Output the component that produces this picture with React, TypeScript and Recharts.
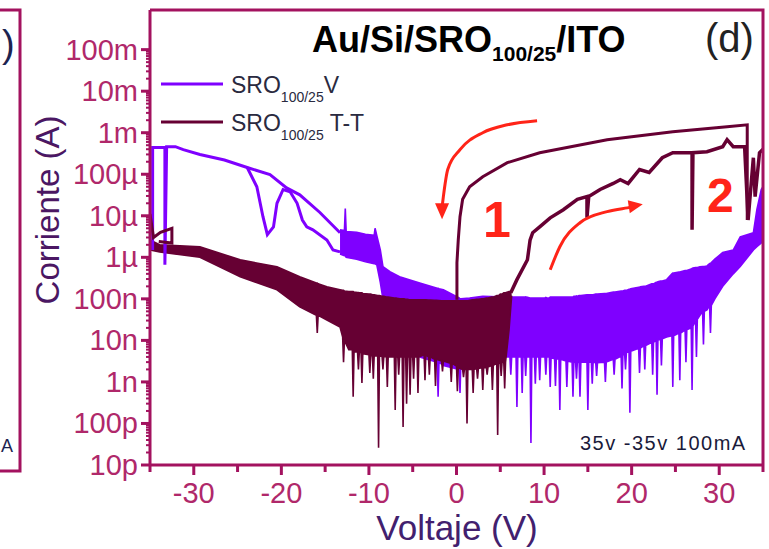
import React from "react";
import { Area, ComposedChart, Line, XAxis, YAxis } from "recharts";

const PURPLE = "#7f00ff";
const MAROON = "#660033";
const AXIS = "#a3125f";
const TICK_TXT = "#b0286a";
const RED = "#ff2418";
const FONT = "'Liberation Sans', Arial, sans-serif";

// x ticks every 5 V, labels only on the tens
const X_TICKS = [-35, -30, -25, -20, -15, -10, -5, 0, 5, 10, 15, 20, 25, 30, 35];
const Y_MAJOR = [1e-11, 1e-10, 1e-9, 1e-8, 1e-7, 1e-6, 1e-5, 1e-4, 1e-3, 1e-2, 1e-1];
const Y_LABELS = ["10p", "100p", "1n", "10n", "100n", "1µ", "10µ", "100µ", "1m", "10m", "100m"];
const Y_TICKS: number[] = [];
Y_MAJOR.forEach((m, i) => {
  Y_TICKS.push(m);
  if (i < Y_MAJOR.length - 1) for (let k = 2; k <= 9; k++) Y_TICKS.push(m * k);
});

// SRO V : noisy band [V, low, high]
const sroVBand: [number, number, number][] = [
  [-13.3, 1.2e-6, 4.6e-6], [-12.8, 1.1e-6, 4.4e-6], [-12.7, 1.1e-6, 1.5e-5], [-12.6, 1.0e-6, 4.2e-6],
  [-11.4, 9.0e-7, 4.0e-6], [-10.4, 7.8e-7, 3.6e-6], [-9.4, 7.0e-7, 3.4e-6], [-9.3, 7.0e-7, 5.0e-6],
  [-9.1, 6.6e-7, 3.3e-6], [-8.7, 2.5e-7, 1.5e-6], [-8.4, 1.0e-7, 6.0e-7], [-7.6, 5.0e-8, 4.5e-7],
  [-6.5, 1.0e-8, 3.4e-7], [-4.2, 4.0e-9, 2.4e-7], [-2.2, 3.0e-9, 1.8e-7], [-2.1, 4.4e-10, 1.8e-7],
  [-2.0, 3.0e-9, 1.75e-7], [-1.5, 2.5e-9, 1.65e-7], [0.3, 2.0e-9, 1.05e-7], [0.4, 5.4e-10, 1.0e-7],
  [0.5, 3.0e-9, 1.0e-7], [1.5, 3.0e-9, 1.05e-7], [3.0, 3.5e-9, 1.15e-7], [5.5, 4.0e-9, 1.1e-7],
  [6.1, 4.0e-9, 1.1e-7], [6.2, 1.5e-9, 1.1e-7], [6.3, 4.0e-9, 1.1e-7],
  [6.8, 4.0e-9, 1.1e-7], [6.9, 2.5e-10, 1.1e-7], [7.0, 4.0e-9, 1.1e-7],
  [7.4, 4.0e-9, 1.1e-7], [7.5, 5.4e-10, 1.1e-7], [7.6, 4.0e-9, 1.1e-7],
  [7.8, 4.0e-9, 1.1e-7], [7.9, 1.4e-9, 1.12e-7], [8.0, 4.0e-9, 1.1e-7],
  [8.4, 4.0e-9, 1.05e-7], [8.5, 3.4e-11, 1.05e-7], [8.6, 4.0e-9, 1.05e-7],
  [8.9, 4.0e-9, 1.05e-7], [9.0, 9.0e-10, 1.05e-7], [9.1, 4.0e-9, 1.05e-7],
  [9.4, 4.0e-9, 1.05e-7], [9.5, 1.1e-9, 1.05e-7], [9.6, 4.0e-9, 1.05e-7],
  [10.1, 4.0e-9, 1.05e-7], [10.2, 1.5e-9, 1.08e-7], [10.3, 4.0e-9, 1.05e-7],
  [10.6, 4.0e-9, 1.05e-7], [10.7, 7.6e-10, 1.1e-7], [10.8, 3.8e-9, 1.1e-7],
  [11.2, 3.6e-9, 1.1e-7], [11.3, 8.0e-10, 1.1e-7], [11.4, 3.6e-9, 1.1e-7],
  [11.7, 3.5e-9, 1.1e-7], [11.8, 2.1e-10, 1.1e-7], [11.9, 3.5e-9, 1.1e-7],
  [12.5, 3.2e-9, 1.1e-7], [12.6, 7.6e-10, 1.1e-7], [12.7, 3.2e-9, 1.1e-7],
  [13.2, 3.0e-9, 1.1e-7], [13.3, 4.4e-10, 1.1e-7], [13.4, 3.0e-9, 1.15e-7],
  [13.6, 3.0e-9, 1.15e-7], [13.7, 1.2e-9, 1.18e-7], [13.8, 3.0e-9, 1.15e-7],
  [14.0, 3.0e-9, 1.2e-7], [14.1, 4.4e-10, 1.2e-7], [14.2, 3.0e-9, 1.2e-7],
  [14.9, 3.0e-9, 1.25e-7], [15.0, 2.1e-10, 1.25e-7], [15.1, 3.0e-9, 1.25e-7],
  [15.4, 3.0e-9, 1.25e-7], [15.5, 9.0e-10, 1.25e-7], [15.6, 3.0e-9, 1.25e-7],
  [15.9, 2.9e-9, 1.3e-7], [16.0, 1.4e-9, 1.3e-7], [16.1, 2.9e-9, 1.3e-7],
  [16.9, 3.0e-9, 1.35e-7], [17.0, 1.0e-9, 1.35e-7], [17.1, 3.0e-9, 1.35e-7],
  [17.9, 3.5e-9, 1.45e-7], [18.0, 1.5e-9, 1.45e-7], [18.1, 3.5e-9, 1.45e-7],
  [18.8, 4.2e-9, 1.55e-7], [18.9, 7.0e-10, 1.55e-7], [19.0, 4.5e-9, 1.55e-7],
  [19.2, 4.8e-9, 1.6e-7], [19.3, 2.0e-9, 1.6e-7], [19.4, 5.0e-9, 1.6e-7],
  [19.7, 5.5e-9, 1.7e-7], [19.8, 1.8e-10, 1.7e-7], [19.9, 5.5e-9, 1.75e-7],
  [20.8, 6.5e-9, 1.9e-7], [20.9, 1.65e-9, 1.9e-7], [21.0, 6.5e-9, 1.95e-7],
  [21.4, 7.5e-9, 2.0e-7], [21.5, 2.0e-9, 2.0e-7], [21.6, 7.5e-9, 2.0e-7],
  [22.3, 9.0e-9, 2.3e-7], [22.4, 1.5e-9, 2.3e-7], [22.5, 9.0e-9, 2.3e-7],
  [22.8, 1.0e-8, 2.5e-7], [22.9, 4.9e-10, 2.5e-7], [23.0, 1.0e-8, 2.6e-7],
  [23.3, 1.1e-8, 2.7e-7], [23.4, 2.5e-9, 2.7e-7], [23.5, 1.1e-8, 2.7e-7],
  [24.0, 1.2e-8, 2.9e-7], [24.6, 1.3e-8, 4.0e-7], [24.7, 7.6e-10, 4.2e-7], [24.8, 1.3e-8, 4.2e-7],
  [25.4, 1.5e-8, 4.4e-7], [25.5, 1.1e-9, 4.4e-7], [25.6, 1.5e-8, 4.5e-7],
  [26.1, 1.8e-8, 4.8e-7], [26.2, 3.0e-9, 4.8e-7], [26.3, 1.8e-8, 4.8e-7],
  [26.8, 2.0e-8, 5.2e-7], [26.9, 6.4e-10, 5.4e-7], [27.0, 2.2e-8, 5.5e-7],
  [27.3, 3.0e-8, 5.7e-7], [27.4, 4.0e-9, 5.7e-7], [27.5, 3.2e-8, 5.7e-7],
  [27.8, 4.0e-8, 5.9e-7], [28.1, 5.0e-8, 6.0e-7], [28.2, 8.0e-9, 6.0e-7], [28.3, 5.0e-8, 6.0e-7],
  [28.6, 5.4e-8, 6.2e-7], [28.9, 7.0e-8, 7.0e-7], [29.0, 1.5e-8, 7.2e-7], [29.1, 7.0e-8, 7.5e-7],
  [29.5, 1.0e-7, 9.0e-7], [30.4, 2.0e-7, 1.3e-6], [31.6, 4.0e-7, 1.5e-6], [32.4, 6.0e-7, 3.1e-6],
  [33.9, 1.5e-6, 3.9e-6], [34.3, 1.8e-6, 1.4e-5], [34.8, 2.2e-6, 4.3e-5], [35.0, 2.6e-6, 5.0e-5],
];

// SRO V : main sweep with the two left verticals
const sroVSweep: [number, number][] = [
  [-34.7, 1.5e-6], [-34.7, 4.4e-4], [-33.3, 4.4e-4], [-33.3, 6.6e-7], [-33.1, 4.6e-4], [-32.1, 4.6e-4],
  [-31.2, 3.9e-4], [-29.3, 3.0e-4], [-26.5, 2.2e-4], [-23.9, 1.45e-4], [-21.3, 9.8e-5], [-19.4, 4.7e-5],
  [-17.9, 3.2e-5], [-15.6, 1.2e-5], [-13.3, 3.9e-6],
];

// SRO V : branch with the two dips
const sroVDips: [number, number][] = [
  [-23.9, 1.45e-4], [-22.8, 5.0e-5], [-22.1, 9.5e-6], [-21.6, 3.5e-6], [-20.9, 5.4e-6], [-20.5, 2.0e-5],
  [-19.8, 4.3e-5], [-19.0, 3.8e-5], [-18.2, 2.0e-5], [-17.6, 7.9e-6], [-17.1, 5.4e-6], [-16.4, 4.6e-6],
  [-14.8, 2.6e-6], [-14.1, 1.5e-6], [-13.3, 1.35e-6],
];

// SRO T-T : noisy band [V, low, high]
const sroTTBand: [number, number, number][] = [
  [-35.0, 1.5e-6, 2.6e-6], [-33.9, 1.35e-6, 2.0e-6], [-29.3, 1.0e-6, 1.8e-6], [-24.7, 3.4e-7, 8.7e-7],
  [-20.5, 1.65e-7, 5.9e-7], [-17.9, 6.4e-8, 3.4e-7], [-16.0, 4.0e-8, 2.4e-7], [-15.9, 1.5e-8, 2.4e-7],
  [-15.8, 4.0e-8, 2.3e-7], [-14.8, 3.1e-8, 1.95e-7], [-13.3, 2.1e-8, 1.65e-7], [-13.0, 1.2e-8, 1.6e-7],
  [-12.9, 3.0e-9, 1.6e-7], [-12.8, 1.0e-8, 1.55e-7], [-12.3, 6.0e-9, 1.5e-7], [-11.9, 6.0e-9, 1.5e-7],
  [-11.8, 4.4e-10, 1.5e-7], [-11.7, 5.5e-9, 1.45e-7], [-11.3, 5.2e-9, 1.42e-7], [-11.2, 2.0e-9, 1.42e-7],
  [-11.1, 5.2e-9, 1.4e-7], [-10.9, 5.0e-9, 1.4e-7], [-10.8, 9.5e-10, 1.4e-7], [-10.7, 4.8e-9, 1.35e-7],
  [-10.0, 4.5e-9, 1.3e-7], [-9.9, 1.65e-9, 1.3e-7], [-9.8, 4.3e-9, 1.3e-7], [-9.6, 4.3e-9, 1.25e-7],
  [-9.5, 1.2e-9, 1.25e-7], [-9.4, 4.3e-9, 1.25e-7], [-9.0, 4.2e-9, 1.2e-7], [-8.9, 2.6e-11, 1.2e-7],
  [-8.8, 4.2e-9, 1.2e-7], [-8.5, 4.1e-9, 1.15e-7], [-8.4, 2.0e-9, 1.15e-7], [-8.3, 4.1e-9, 1.15e-7],
  [-8.0, 4.0e-9, 1.1e-7], [-7.9, 7.6e-10, 1.1e-7], [-7.8, 4.0e-9, 1.1e-7], [-7.1, 4.0e-9, 1.05e-7],
  [-7.0, 2.1e-10, 1.05e-7], [-6.9, 4.0e-9, 1.05e-7], [-6.7, 4.0e-9, 1.02e-7], [-6.6, 1.5e-9, 1.02e-7],
  [-6.5, 4.0e-9, 1.0e-7], [-6.2, 4.0e-9, 1.0e-7], [-6.1, 8.2e-11, 1.0e-7], [-6.0, 4.0e-9, 1.0e-7],
  [-5.8, 4.0e-9, 9.8e-8], [-5.7, 3.0e-10, 9.8e-8], [-5.6, 4.0e-9, 9.8e-8], [-5.4, 4.0e-9, 9.5e-8],
  [-5.3, 4.9e-10, 9.5e-8], [-5.2, 4.0e-9, 9.5e-8], [-5.0, 4.0e-9, 9.5e-8], [-4.9, 1.2e-9, 9.5e-8],
  [-4.8, 4.0e-9, 9.5e-8], [-4.5, 4.0e-9, 9.5e-8], [-4.4, 5.4e-10, 9.5e-8], [-4.3, 4.0e-9, 9.5e-8],
  [-3.7, 4.5e-9, 9.5e-8], [-3.6, 1.1e-9, 9.5e-8], [-3.5, 4.5e-9, 9.5e-8], [-3.2, 4.0e-9, 9.3e-8],
  [-3.1, 1.5e-9, 9.3e-8], [-3.0, 4.0e-9, 9.3e-8], [-2.5, 3.5e-9, 9.2e-8], [-2.4, 8.0e-10, 9.2e-8],
  [-2.3, 3.5e-9, 9.2e-8], [-1.7, 3.2e-9, 9.0e-8], [-1.6, 1.8e-9, 9.0e-8], [-1.5, 3.2e-9, 9.0e-8],
  [-0.7, 2.8e-9, 9.0e-8], [-0.6, 1.0e-9, 9.0e-8], [-0.5, 2.8e-9, 9.0e-8], [0.0, 2.4e-9, 9.0e-8],
  [0.1, 6.0e-10, 9.0e-8], [0.2, 2.2e-9, 9.0e-8], [0.7, 2.0e-9, 9.0e-8], [0.8, 1.3e-9, 9.0e-8],
  [0.9, 2.0e-9, 9.0e-8], [1.1, 2.0e-9, 9.0e-8], [1.2, 1.0e-10, 9.0e-8], [1.3, 2.0e-9, 9.0e-8],
  [1.8, 2.0e-9, 9.5e-8], [1.9, 5.4e-10, 9.5e-8], [2.0, 2.0e-9, 9.5e-8], [2.3, 2.1e-9, 9.7e-8],
  [2.4, 1.2e-9, 9.7e-8], [2.5, 2.1e-9, 9.7e-8], [2.9, 2.2e-9, 1.0e-7], [3.0, 6.4e-10, 1.0e-7],
  [3.1, 2.2e-9, 1.0e-7], [3.4, 2.3e-9, 1.05e-7], [3.5, 1.5e-9, 1.05e-7], [3.6, 2.3e-9, 1.05e-7],
  [4.0, 2.5e-9, 1.1e-7], [4.1, 6.4e-10, 1.1e-7], [4.2, 2.5e-9, 1.1e-7], [4.6, 2.8e-9, 1.2e-7],
  [4.7, 5.3e-11, 1.2e-7], [4.8, 2.8e-9, 1.2e-7], [5.0, 2.9e-9, 1.3e-7], [5.1, 1.4e-9, 1.3e-7],
  [5.2, 2.9e-9, 1.3e-7], [5.4, 3.0e-9, 1.4e-7], [5.5, 7.0e-10, 1.4e-7], [5.6, 3.0e-9, 1.4e-7],
  [6.0, 1.8e-8, 1.5e-7], [6.3, 1.2e-7, 1.5e-7],
];

// SRO T-T : small loop at the left edge
const sroTTLoop: [number, number][] = [
  [-35.0, 1.1e-5], [-34.6, 3.0e-6], [-33.8, 4.0e-6], [-32.5, 5.0e-6], [-32.5, 2.2e-6], [-34.0, 2.4e-6],
];

// SRO T-T : forward sweep (2)
const sroTTSet: [number, number][] = [
  [6.2, 1.4e-7], [6.9, 2.9e-7], [8.1, 8.7e-7], [8.4, 2.6e-6], [8.7, 3.9e-6], [9.5, 5.4e-6],
  [10.7, 8.9e-6], [12.2, 1.4e-5], [13.8, 2.5e-5], [14.9, 2.9e-5], [14.9, 9.0e-6], [15.1, 2.9e-5],
  [16.4, 4.3e-5], [17.9, 6.0e-5], [18.7, 7.4e-5], [19.6, 6.0e-5], [20.9, 1.3e-4], [22.0, 1.1e-4],
  [23.5, 2.5e-4], [24.7, 3.3e-4], [26.9, 3.3e-4], [26.9, 4.6e-6], [27.0, 3.3e-4], [28.6, 3.5e-4],
  [30.4, 4.6e-4], [30.9, 6.8e-4], [31.6, 4.6e-4], [32.9, 4.6e-4], [33.3, 7.9e-6], [33.9, 2.5e-4],
  [34.1, 2.9e-5], [34.6, 3.3e-4], [35.0, 4.0e-4],
];

// SRO T-T : return sweep (1)
const sroTTReset: [number, number][] = [
  [33.2, 7.9e-6], [33.2, 1.55e-3], [30.9, 1.4e-3], [24.7, 1.05e-3], [17.2, 6.8e-4], [9.5, 3.3e-4],
  [5.8, 1.9e-4], [3.0, 8.7e-5], [1.5, 5.0e-5], [0.7, 2.5e-5], [0.4, 9.5e-6], [0.2, 2.6e-6],
  [0.05, 7.4e-7], [0.05, 9.5e-8],
];

// red arrows, in data coordinates
const arrow1: [number, number][] = [
  [9.2, 1.95e-3], [5.8, 1.55e-3], [3.0, 1.0e-3], [0.4, 3.9e-4], [-1.0, 1.3e-4], [-1.5, 2.9e-5], [-1.65, 1.6e-5],
];
const arrow2: [number, number][] = [
  [10.7, 5.0e-7], [11.8, 1.8e-6], [14.1, 6.8e-6], [17.2, 1.26e-5], [19.5, 1.55e-5], [19.9, 1.6e-5],
];

const band = (rows: [number, number, number][]) => rows.map(([v, lo, hi]) => ({ v, range: [lo, hi] }));
const pts = (rows: [number, number][]) => rows.map(([v, i]) => ({ v, i }));

function XTick({ x, y, payload }: any) {
  const v = payload.value;
  const major = v % 10 === 0;
  return (
    <g>
      <line x1={x} x2={x} y1={y} y2={y + (major ? 10 : 7)} stroke={AXIS} strokeWidth={3} />
      {major && (
        <text x={x} y={y + 38} textAnchor="middle" fontSize={29} fill={TICK_TXT} fontFamily={FONT}>
          {v}
        </text>
      )}
    </g>
  );
}

function YTick({ x, y, payload }: any) {
  const e = Math.log10(payload.value);
  const major = Math.abs(e - Math.round(e)) < 1e-6;
  return (
    <g>
      <line x1={x} x2={x - (major ? 9 : 4)} y1={y} y2={y} stroke={AXIS} strokeWidth={major ? 3 : 2} />
      {major && (
        <text x={x - 12} y={y + 10} textAnchor="end" fontSize={29} fill={TICK_TXT} fontFamily={FONT}>
          {Y_LABELS[Math.round(e) + 11]}
        </text>
      )}
    </g>
  );
}

const headDown = (n: number) => (p: any) =>
  p.index === n - 1 ? (
    <polygon key="h" points={`${p.cx - 7},${p.cy - 4} ${p.cx + 7},${p.cy - 4} ${p.cx},${p.cy + 12}`} fill={RED} />
  ) : (
    <g key={p.index} />
  );

const headRight = (n: number) => (p: any) =>
  p.index === n - 1 ? (
    <polygon key="h" points={`${p.cx - 3},${p.cy - 7} ${p.cx - 1},${p.cy + 6} ${p.cx + 12},${p.cy - 3}`} fill={RED} />
  ) : (
    <g key={p.index} />
  );

export default function App() {
  return (
    <div style={{ position: "absolute", left: 0, top: 0, width: 769, height: 549, background: "#fff" }}>
      <ComposedChart width={769} height={549} margin={{ top: 10, right: 6, bottom: 0, left: 0 }}>
        <XAxis
          type="number"
          dataKey="v"
          domain={[-35, 35]}
          ticks={X_TICKS}
          interval={0}
          allowDataOverflow
          height={84}
          tickLine={false}
          tickSize={0}
          tickMargin={0}
          tick={<XTick />}
          axisLine={{ stroke: AXIS, strokeWidth: 3 }}
        />
        <YAxis
          scale="log"
          domain={[1e-11, 0.9]}
          ticks={Y_TICKS}
          interval={0}
          allowDataOverflow
          width={150}
          tickLine={false}
          tickSize={0}
          tickMargin={0}
          tick={<YTick />}
          axisLine={{ stroke: AXIS, strokeWidth: 3 }}
        />

        <Area data={band(sroVBand)} dataKey="range" type="linear" stroke={PURPLE} strokeWidth={1.6} fill={PURPLE} fillOpacity={1} isAnimationActive={false} />
        <Line data={pts(sroVSweep)} dataKey="i" type="linear" stroke={PURPLE} strokeWidth={3} dot={false} isAnimationActive={false} />
        <Line data={pts(sroVDips)} dataKey="i" type="linear" stroke={PURPLE} strokeWidth={3} dot={false} isAnimationActive={false} />

        <Area data={band(sroTTBand)} dataKey="range" type="linear" stroke={MAROON} strokeWidth={1.6} fill={MAROON} fillOpacity={1} isAnimationActive={false} />
        <Line data={pts(sroTTLoop)} dataKey="i" type="linear" stroke={MAROON} strokeWidth={3} dot={false} isAnimationActive={false} />
        <Line data={pts(sroTTSet)} dataKey="i" type="linear" stroke={MAROON} strokeWidth={3.5} dot={false} isAnimationActive={false} />
        <Line data={pts(sroTTReset)} dataKey="i" type="linear" stroke={MAROON} strokeWidth={3} dot={false} isAnimationActive={false} />

        <Line data={pts(arrow1)} dataKey="i" type="monotone" stroke={RED} strokeWidth={3} dot={headDown(arrow1.length)} isAnimationActive={false} />
        <Line data={pts(arrow2)} dataKey="i" type="monotone" stroke={RED} strokeWidth={3} dot={headRight(arrow2.length)} isAnimationActive={false} />
      </ComposedChart>

      <svg width={769} height={549} style={{ position: "absolute", left: 0, top: 0, pointerEvents: "none" }} fontFamily={FONT}>
        {/* frame */}
        <path d="M150,10 H763 V465" fill="none" stroke={AXIS} strokeWidth={3} />
        {/* edge of the neighbouring panel */}
        <path d="M0,10 H20 V471 H0" fill="none" stroke={AXIS} strokeWidth={3} />
        <text x={2} y={57} fontSize={38} fill="#1c2350">)</text>
        <text x={1} y={452} fontSize={18} fill="#1c2350">A</text>

        <text x={312} y={52} fontSize={36} fontWeight="bold" fill="#000">
          Au/Si/SRO<tspan fontSize={21} dy={9}>100/25</tspan><tspan dy={-9}>/ITO</tspan>
        </text>
        <text x={705} y={52} fontSize={40} fill="#222">(d)</text>

        <line x1={161} x2={223} y1={84} y2={84} stroke={PURPLE} strokeWidth={3} />
        <text x={231} y={93} fontSize={23} fill="#2a2a40">
          SRO<tspan fontSize={14} dy={9}>100/25</tspan><tspan dy={-9}>V</tspan>
        </text>
        <line x1={161} x2={223} y1={122} y2={122} stroke={MAROON} strokeWidth={3} />
        <text x={231} y={131} fontSize={23} fill="#2a2a40">
          SRO<tspan fontSize={14} dy={9}>100/25</tspan><tspan dy={-9}> T-T</tspan>
        </text>

        <text x={483} y={237} fontSize={50} fontWeight="bold" fill={RED}>1</text>
        <text x={707} y={212} fontSize={48} fontWeight="bold" fill={RED}>2</text>
        <text x={580} y={450} fontSize={20} letterSpacing={1.5} fill="#1a1a3a">35v -35v 100mA</text>

        <text x={457} y={540} fontSize={35} textAnchor="middle" fill="#42206e">Voltaje (V)</text>
        <text x={59} y={210} fontSize={33} textAnchor="middle" fill="#4b1763" transform="rotate(-90 59 210)">
          Corriente (A)
        </text>
      </svg>
    </div>
  );
}
